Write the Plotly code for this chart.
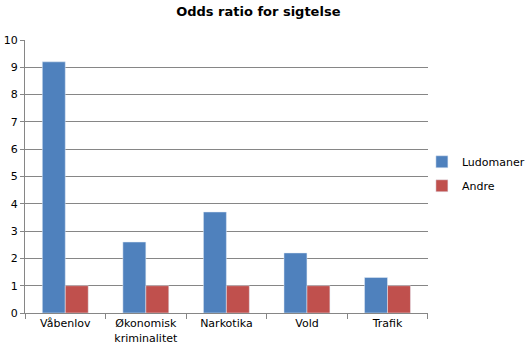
import plotly.graph_objects as go

categories = ["Våbenlov", "Økonomisk<br>kriminalitet", "Narkotika", "Vold", "Trafik"]
ludomaner = [9.2, 2.6, 3.7, 2.2, 1.3]
andre = [1, 1, 1, 1, 1]

font_family = "DejaVu Sans, Verdana, sans-serif"
grid_color = "#868686"

fig = go.Figure()
fig.add_trace(go.Bar(name="Ludomaner", x=categories, y=ludomaner,
                     marker_color="#4F81BD", legendgroup="ludomaner"))
fig.add_trace(go.Bar(name="Andre", x=categories, y=andre,
                     marker_color="#C0504D", legendgroup="andre"))

fig.update_layout(
    width=525, height=350,
    margin=dict(l=25, r=10, t=40, b=37, autoexpand=False),
    paper_bgcolor="white", plot_bgcolor="white",
    font=dict(family=font_family, size=11, color="black"),
    title=dict(text="<b>Odds ratio for sigtelse</b>", x=0.492, xanchor="center",
               y=0.967, yanchor="middle", font=dict(size=13, family=font_family)),
    barmode="group", bargap=0.43, bargroupgap=0,
    legend=dict(x=0.81, y=0.51, xanchor="left", yanchor="middle",
                font=dict(size=11), itemwidth=30, tracegroupgap=5,
                traceorder="grouped", bgcolor="rgba(0,0,0,0)"),
    showlegend=True,
)
fig.update_xaxes(
    domain=[0, 0.822], tickangle=0,
    showline=True, linecolor=grid_color, linewidth=1,
    ticks="outside", tickson="boundaries", ticklen=5, tickcolor=grid_color,
    showgrid=False,
)
fig.update_yaxes(
    range=[0, 10], dtick=1, showgrid=True, gridcolor=grid_color, gridwidth=1,
    showline=True, linecolor=grid_color, linewidth=1,
    ticks="outside", ticklen=4, tickcolor=grid_color, zeroline=False,
)

fig.write_html("out.html")
